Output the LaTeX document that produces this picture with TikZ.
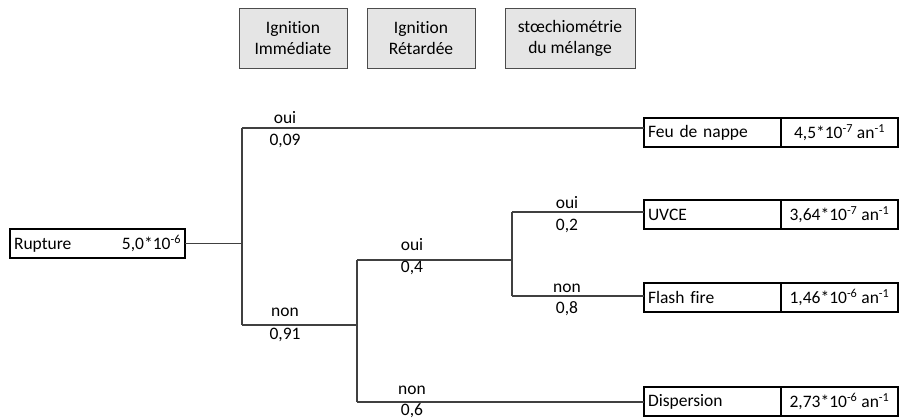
\documentclass[tikz,border=0pt]{standalone}
\usepackage{fontspec}
\setmainfont{Carlito}[Ligatures=NoCommon]
\usetikzlibrary{positioning}
\tikzset{
    %Define standard font
    txt/.style={font=\fontsize{17.5}{21}\selectfont},
    %Define style for column headers
    header/.style={
      txt,
      rectangle,
      draw=black!70, line width=1pt,
      fill=black!10,
      minimum width=108pt,
      minimum height=60pt,
      align=center},
    %Define style for event boxes
    event/.style={
      txt,
      rectangle,
      draw=black, line width=1.2pt,
      minimum height=29pt,
      inner sep=4pt,
      outer sep=0pt},
    evname/.style={event, text width=129pt, align=left},
    evfreq/.style={event, minimum width=117pt, align=center},
    % Define branch style
    branch/.style={
      draw=black!75,
      line width=1.2pt},
    % Define probability labels
    prob/.style={txt, inner sep=0pt}
}

\begin{document}
\begin{tikzpicture}[x=1pt, y=-1pt]
    \useasboundingbox (0,0) rectangle (899,419);

    \node[header] (imm) at (293,38.5) {Ignition\\Immédiate};
    \node[header] (ret) at (421,38.5) {Ignition\\Rétardée};
    \node[header, minimum width=130pt] (stoe) at (570,38.5) {stœchiométrie\\du mélange};

    \node[event, text width=167pt, align=left] (rupture) at (97.5,243.5)
      {Rupture\hfill 5,0*10\textsuperscript{-6}\hspace{5pt}};

    \node[evname, anchor=west] (feu) at (644,132.5) {Feu de nappe};
    \node[evfreq, right=0pt of feu] (feufreq) {4,5*10\textsuperscript{-7} an\textsuperscript{-1}};
    \node[evname, anchor=west] (uvce) at (644,214.5) {UVCE};
    \node[evfreq, right=0pt of uvce] (uvcefreq) {3,64*10\textsuperscript{-7} an\textsuperscript{-1}};
    \node[evname, anchor=west] (flash) at (644,297.5) {Flash fire};
    \node[evfreq, right=0pt of flash] (flashfreq) {1,46*10\textsuperscript{-6} an\textsuperscript{-1}};
    \node[evname, anchor=west] (disp) at (644,401.5) {Dispersion};
    \node[evfreq, right=0pt of disp] (dispfreq) {2,73*10\textsuperscript{-6} an\textsuperscript{-1}};

    % junctions of the tree
    \coordinate (j1) at (242,245);
    \coordinate (j1t) at (242,128);
    \coordinate (j1b) at (242,325);
    \coordinate (j2t) at (357,260);
    \coordinate (j2b) at (357,402);
    \coordinate (j3t) at (512,212);
    \coordinate (j3b) at (512,296);

    \draw[branch] (rupture.east) -- (rupture.east -| j1);
    \draw[branch] (j1t) -- (j1b);
    \draw[branch] (j1t) -- (j1t -| feu.west);
    \draw[branch] (j1b) -- (j1b -| j2t);
    \draw[branch] (j2t) -- (j2b);
    \draw[branch] (j2t) -- (j2t -| j3t);
    \draw[branch] (j2b) -- (j2b -| disp.west);
    \draw[branch] (j3t) -- (j3b);
    \draw[branch] (j3t) -- (j3t -| uvce.west);
    \draw[branch] (j3b) -- (j3b -| flash.west);

    \node[prob] (oui1) at (285,118) {oui};
    \node[prob] (p1) at (285,141) {0,09};
    \node[prob] (non1) at (285,312) {non};
    \node[prob] (q1) at (285,335) {0,91};
    \node[prob] (oui2) at (412,245) {oui};
    \node[prob] (p2) at (412,268) {0,4};
    \node[prob] (non2) at (412,390) {non};
    \node[prob] (q2) at (412,411) {0,6};
    \node[prob] (oui3) at (567,203) {oui};
    \node[prob] (p3) at (567,226) {0,2};
    \node[prob] (non3) at (567,288) {non};
    \node[prob] (q3) at (567,309) {0,8};
\end{tikzpicture}
\end{document}
